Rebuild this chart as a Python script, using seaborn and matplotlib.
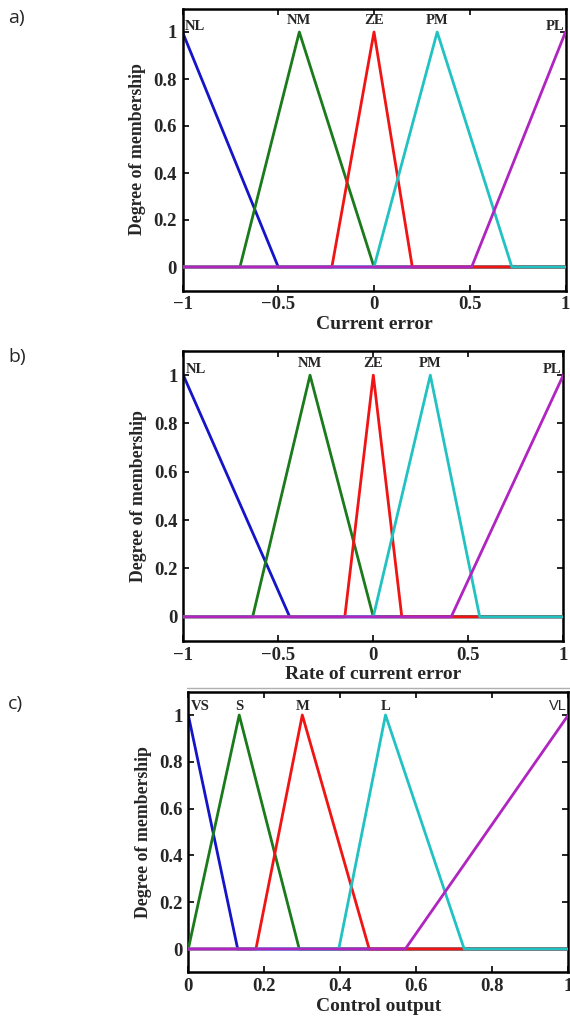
import numpy as np
import pandas as pd
import matplotlib
matplotlib.use("Agg")
import matplotlib.pyplot as plt
from matplotlib.lines import Line2D
import seaborn as sns

sns.set_theme(style="white")
plt.rcParams["font.family"] = ["Liberation Serif", "DejaVu Serif"]

# Triangular membership functions: (left foot, peak, right foot)
err_names = ["NL", "NM", "ZE", "PM", "PL"]
err_left = [-1.0, -0.70, -0.22, 0.00, 0.51]
err_peak = [-1.0, -0.39, 0.00, 0.33, 1.00]
err_right = [-0.50, 0.00, 0.20, 0.72, 1.00]

rate_names = ["NL", "NM", "ZE", "PM", "PL"]
rate_left = [-1.0, -0.635, -0.15, 0.00, 0.41]
rate_peak = [-1.0, -0.333, 0.00, 0.30, 1.00]
rate_right = [-0.44, 0.00, 0.15, 0.56, 1.00]

out_names = ["VS", "S", "M", "L", "VL"]
out_left = [0.0, 0.0, 0.178, 0.396, 0.571]
out_peak = [0.0, 0.134, 0.30, 0.519, 1.0]
out_right = [0.13, 0.292, 0.476, 0.726, 1.0]

err_ticks = [-1, -0.5, 0, 0.5, 1]
err_ticklabels = ["\u22121", "\u22120.5", "0", "0.5", "1"]
out_ticks = [0, 0.2, 0.4, 0.6, 0.8, 1]
out_ticklabels = ["0", "0.2", "0.4", "0.6", "0.8", "1"]
y_ticks = [0, 0.2, 0.4, 0.6, 0.8, 1]
y_ticklabels = ["0", "0.2", "0.4", "0.6", "0.8", "1"]

colors = ["#1414c8", "#1b7a1b", "#f01414", "#22c2c2", "#b024c0"]

W, H = 570, 1023
fig = plt.figure(figsize=(W / 100, H / 100), dpi=100)


def axes_px(left, top, right, bottom):
    return fig.add_axes([left / W, 1 - bottom / H, (right - left) / W, (bottom - top) / H])


def vertices(a, b, c, xmin, xmax):
    xs, ys = [], []
    if a > xmin:
        xs.append(xmin); ys.append(0.0)
    if a < b:
        xs.append(a); ys.append(0.0)
    xs.append(b); ys.append(1.0)
    if c > b:
        xs.append(c); ys.append(0.0)
    if c < xmax:
        xs.append(xmax); ys.append(0.0)
    return xs, ys


def panel(ax, names, lefts, peaks, rights, xmin, xmax, xticks, xticklabels, xlabel,
          mid_y, end_y, sans_last=False):
    for i, (n, a, b, c) in enumerate(zip(names, lefts, peaks, rights)):
        xs, ys = vertices(a, b, c, xmin, xmax)
        df = pd.DataFrame({"x": xs, "y": ys})
        sns.lineplot(data=df, x="x", y="y", ax=ax, sort=False, estimator=None,
                     color=colors[i], lw=2.0, zorder=2 + i)
    span = xmax - xmin
    fs = 10.5
    for i, (n, b) in enumerate(zip(names, peaks)):
        if i == 0:
            ax.text(b + 0.006 * span, end_y, n, ha="left", va="baseline",
                    fontsize=fs, fontweight="bold")
        elif i == len(names) - 1:
            if sans_last:
                ax.text(b - 0.004 * span, end_y, n, ha="right", va="baseline",
                        fontsize=fs, family=["Liberation Sans", "DejaVu Sans"])
            else:
                ax.text(b - 0.004 * span, end_y, n, ha="right", va="baseline",
                        fontsize=fs, fontweight="bold")
        else:
            ax.text(b, mid_y, n, ha="center", va="baseline", fontsize=fs, fontweight="bold")
    ax.set_xlim(xmin, xmax)
    ax.set_ylim(-0.1, 1.1)
    ax.set_xticks(xticks)
    ax.set_xticklabels(xticklabels, fontsize=13.5, fontweight="bold")
    ax.set_yticks(y_ticks)
    ax.set_yticklabels(y_ticklabels, fontsize=13.5, fontweight="bold")
    ax.set_xlabel(xlabel, fontsize=14, fontweight="bold", labelpad=2)
    ax.set_ylabel("Degree of membership", fontsize=12.8, fontweight="bold", labelpad=5)
    ax.tick_params(direction="in", length=4, width=1.2, top=True, right=True,
                   bottom=True, left=True, color="black", pad=4)
    for s in ax.spines.values():
        s.set_visible(True)
        s.set_color("black")
        s.set_linewidth(1.8)
    ax.grid(False)


ax1 = axes_px(182.5, 8.5, 565.5, 290.5)
panel(ax1, err_names, err_left, err_peak, err_right, -1, 1, err_ticks, err_ticklabels,
      "Current error", mid_y=1.035, end_y=1.01)

ax2 = axes_px(183.3, 351, 563.3, 641)
panel(ax2, rate_names, rate_left, rate_peak, rate_right, -1, 1, err_ticks, err_ticklabels,
      "Rate of current error", mid_y=1.035, end_y=1.01)

ax3 = axes_px(188.3, 691.6, 568.3, 972.4)
panel(ax3, out_names, out_left, out_peak, out_right, 0, 1, out_ticks, out_ticklabels,
      "Control output", mid_y=1.02, end_y=1.02, sans_last=True)

# Faint separator under the middle panel
fig.add_artist(Line2D([187 / W, 1.0], [1 - 688 / H, 1 - 688 / H], color="#b0b0b0", lw=1))

for lbl, y in [("a)", 18), ("b)", 357), ("c)", 704)]:
    fig.text(8 / W, 1 - y / H, lbl, ha="left", va="center", fontsize=14,
             family=["Open Sans", "DejaVu Sans"])

fig.savefig("out.png", dpi=100)
